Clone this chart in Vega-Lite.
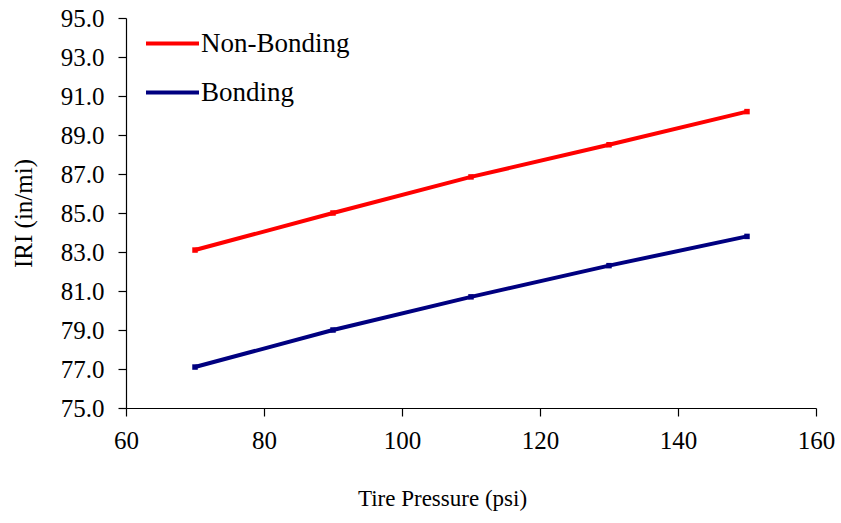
{
  "$schema": "https://vega.github.io/schema/vega-lite/v6.json",
  "width": 690,
  "height": 390,
  "autosize": {"type": "none"},
  "padding": {"left": 126, "top": 18, "right": 25, "bottom": 115},
  "background": "white",
  "config": {
    "view": {"stroke": null},
    "font": "Liberation Serif, Times New Roman, serif",
    "axis": {"grid": false, "labelFlush": false, "labelOverlap": false, "domainColor": "black", "tickColor": "black", "labelColor": "black", "titleColor": "black", "labelFont": "Liberation Serif, Times New Roman, serif", "titleFont": "Liberation Serif, Times New Roman, serif", "labelFontSize": 25, "titleFontSize": 24, "titleFontWeight": "normal", "tickSize": 8, "domainWidth": 1.2, "tickWidth": 1.2},
    "legend": {"labelFont": "Liberation Serif, Times New Roman, serif"}
  },
  "data": {
    "values": [
      {"psi": 70, "iri": 83.1, "series": "Non-Bonding"},
      {"psi": 90, "iri": 85.0, "series": "Non-Bonding"},
      {"psi": 110, "iri": 86.85, "series": "Non-Bonding"},
      {"psi": 130, "iri": 88.5, "series": "Non-Bonding"},
      {"psi": 150, "iri": 90.2, "series": "Non-Bonding"},
      {"psi": 70, "iri": 77.1, "series": "Bonding"},
      {"psi": 90, "iri": 79.0, "series": "Bonding"},
      {"psi": 110, "iri": 80.7, "series": "Bonding"},
      {"psi": 130, "iri": 82.3, "series": "Bonding"},
      {"psi": 150, "iri": 83.8, "series": "Bonding"}
    ]
  },
  "encoding": {
    "x": {"field": "psi", "type": "quantitative", "scale": {"domain": [60, 160], "nice": false, "zero": false},
      "axis": {"values": [60, 80, 100, 120, 140, 160], "title": "Tire Pressure (psi)", "titleFontSize": 23, "labelPadding": 12, "titlePadding": 34, "titleX": 316}},
    "y": {"field": "iri", "type": "quantitative", "scale": {"domain": [75, 95], "nice": false, "zero": false},
      "axis": {"values": [75, 77, 79, 81, 83, 85, 87, 89, 91, 93, 95], "format": ".1f", "title": "IRI (in/mi)", "titleFontSize": 25, "labelPadding": 14, "titlePadding": 24}},
    "color": {"field": "series", "type": "nominal", "scale": {"domain": ["Non-Bonding", "Bonding"], "range": ["#FF0000", "#000080"]},
      "legend": {"title": null, "orient": "none", "legendX": 18, "legendY": -3, "symbolType": "stroke", "symbolSize": 2809, "symbolStrokeWidth": 4, "labelFontSize": 27, "labelColor": "black", "rowPadding": 7, "labelOffset": 0}}
  },
  "layer": [
    {"mark": {"type": "line", "strokeWidth": 4}},
    {"mark": {"type": "point", "shape": "square", "filled": true, "size": 30, "opacity": 1}}
  ]
}
